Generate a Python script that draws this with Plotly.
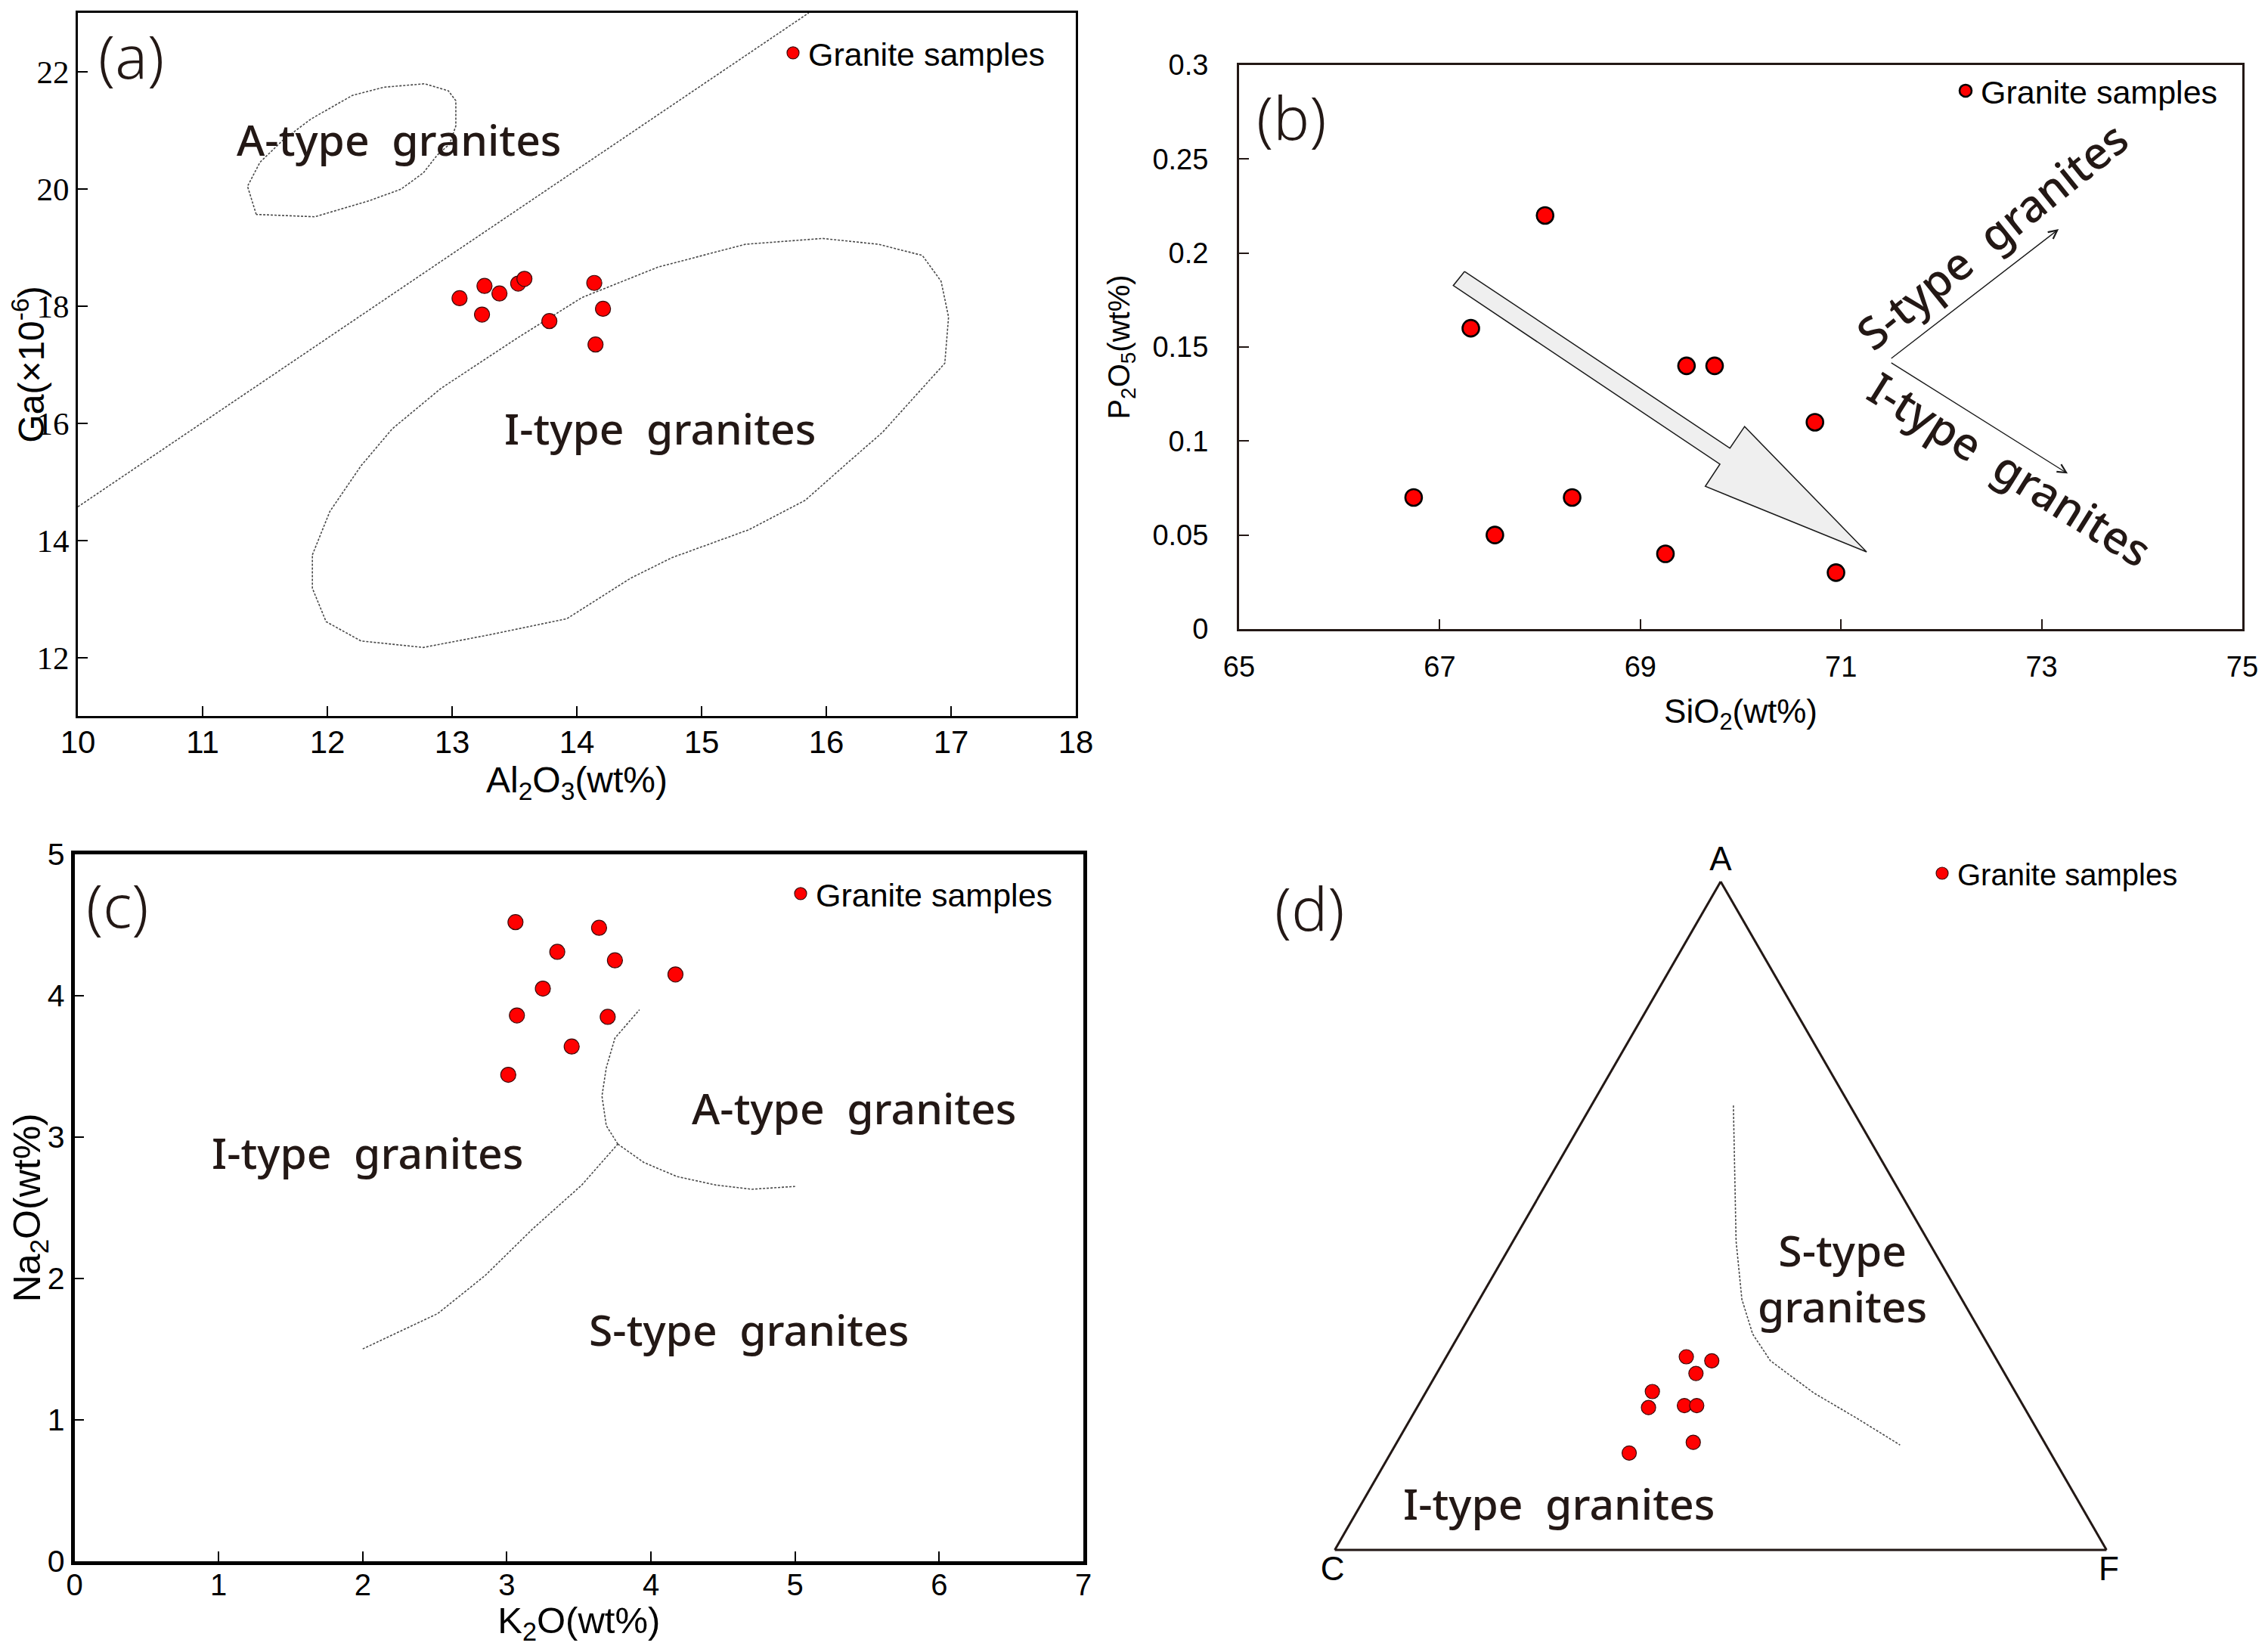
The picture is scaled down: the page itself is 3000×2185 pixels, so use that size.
import plotly.graph_objects as go

# ---------------- (a) Ga vs Al2O3 ----------------
a_al2o3 = [13.06, 13.26, 13.24, 13.38, 13.53, 13.58, 13.78, 14.14, 14.21, 14.15]
a_ga = [18.13, 18.34, 17.85, 18.21, 18.38, 18.46, 17.74, 18.39, 17.95, 17.34]
a_divide_al2o3 = [10.0, 15.86]
a_divide_ga = [14.57, 23.0]
a_atype_al2o3 = [11.43, 11.36, 11.46, 11.64, 11.87, 12.20, 12.45, 12.78, 12.97, 13.03,
                 13.03, 12.98, 12.88, 12.77, 12.59, 12.33, 11.90, 11.43]
a_atype_ga = [19.56, 20.04, 20.45, 20.82, 21.19, 21.59, 21.73, 21.79, 21.67, 21.50,
              21.07, 20.76, 20.57, 20.27, 19.99, 19.79, 19.52, 19.56]
a_itype_al2o3 = [11.88, 12.02, 12.27, 12.52, 12.91, 13.53, 14.04, 14.65, 15.35, 15.97,
                 16.42, 16.77, 16.92, 16.98, 16.95, 16.73, 16.45, 16.17, 15.83, 15.38,
                 14.76, 14.43, 13.92, 13.31, 12.77, 12.27, 11.99, 11.88, 11.88]
a_itype_ga = [13.75, 14.49, 15.27, 15.90, 16.59, 17.46, 18.14, 18.66, 19.05, 19.15,
              19.05, 18.86, 18.42, 17.81, 17.02, 16.50, 15.84, 15.32, 14.68, 14.18,
              13.70, 13.35, 12.66, 12.39, 12.17, 12.28, 12.61, 13.18, 13.75]
a_xticks = [10, 11, 12, 13, 14, 15, 16, 17, 18]
a_yticks = [12, 14, 16, 18, 20, 22]

# ---------------- (b) P2O5 vs SiO2 ----------------
b_sio2 = [66.74, 67.31, 67.55, 68.05, 68.32, 69.25, 69.46, 69.74, 70.74, 70.95]
b_p2o5 = [0.07, 0.16, 0.05, 0.22, 0.07, 0.04, 0.14, 0.14, 0.11, 0.03]
b_trend_sio2 = [67.248, 67.135, 69.793, 69.647, 71.255, 70.039, 69.893, 67.248]
b_trend_p2o5 = [0.1902, 0.1827, 0.0877, 0.0759, 0.0410, 0.1077, 0.0962, 0.1902]
b_s_arrow_sio2 = [71.49, 73.17]
b_s_arrow_p2o5 = [0.1435, 0.2127]
b_i_arrow_sio2 = [71.49, 73.26]
b_i_arrow_p2o5 = [0.1420, 0.0827]
b_xticks = [65, 67, 69, 71, 73, 75]
b_yticks = [0, 0.05, 0.1, 0.15, 0.2, 0.25, 0.3]

# ---------------- (c) Na2O vs K2O ----------------
c_k2o = [3.06, 3.64, 3.35, 3.75, 4.17, 3.25, 3.07, 3.70, 3.45, 3.01]
c_na2o = [4.52, 4.48, 4.31, 4.25, 4.15, 4.05, 3.86, 3.85, 3.64, 3.44]
c_is_k2o = [2.0, 2.52, 2.85, 3.18, 3.52, 3.77]
c_is_na2o = [1.5, 1.75, 2.02, 2.35, 2.66, 2.95]
c_ia_k2o = [3.77, 3.69, 3.66, 3.69, 3.75, 3.92]
c_ia_na2o = [2.95, 3.08, 3.29, 3.49, 3.70, 3.90]
c_as_k2o = [3.77, 3.95, 4.18, 4.45, 4.70, 5.0]
c_as_na2o = [2.95, 2.82, 2.72, 2.66, 2.63, 2.65]
c_xticks = [0, 1, 2, 3, 4, 5, 6, 7]
c_yticks = [0, 1, 2, 3, 4, 5]

# ---------------- (d) ACF ternary ----------------
d_A = [28.9, 28.3, 26.4, 23.7, 21.3, 21.6, 21.6, 16.1, 14.5]
d_C = [40.0, 37.0, 40.0, 47.0, 48.7, 43.9, 42.3, 45.5, 54.6]
d_F = [31.1, 34.7, 33.6, 29.3, 30.0, 34.5, 36.1, 38.4, 30.9]
d_line_A = [66.5, 46.2, 37.5, 32.3, 28.3, 23.5, 19.7, 15.7]
d_line_C = [15.1, 24.9, 28.5, 29.7, 29.4, 26.2, 22.5, 18.9]
d_line_F = [18.4, 28.9, 34.0, 38.0, 42.3, 50.3, 57.8, 65.4]

INK = '#231815'
ARIAL = 'Arial, Liberation Sans, sans-serif'
TIMES = 'Times New Roman, Liberation Serif, serif'
LABEL = 'Noto Sans, Open Sans, sans-serif'
RED = '#ff0000'
DASH = dict(color='#4a4a4a', width=1.6, dash='3px,2px')
NB = '\u00a0'

# page has an 8px body margin: figure is sized so that it fits the window
W, H, OFF = 2984, 2169, 8


def X(px):
    return (px - OFF) / W


def Y(py):
    return 1 - (py - OFF) / H


fig = go.Figure()

# (a)
fig.add_trace(go.Scatter(x=a_divide_al2o3, y=a_divide_ga, mode='lines', line=DASH,
                         showlegend=False, hoverinfo='skip', xaxis='x', yaxis='y'))
fig.add_trace(go.Scatter(x=a_atype_al2o3, y=a_atype_ga, mode='lines', line=DASH,
                         showlegend=False, hoverinfo='skip', xaxis='x', yaxis='y'))
fig.add_trace(go.Scatter(x=a_itype_al2o3, y=a_itype_ga, mode='lines', line=DASH,
                         showlegend=False, hoverinfo='skip', xaxis='x', yaxis='y'))
fig.add_trace(go.Scatter(x=a_al2o3, y=a_ga, mode='markers', name='Granite samples',
                         marker=dict(size=20, color=RED, line=dict(color='#3a0a0a', width=1.2)),
                         legend='legend', xaxis='x', yaxis='y'))

# (b)
fig.add_trace(go.Scatter(x=b_trend_sio2, y=b_trend_p2o5, mode='lines', fill='toself',
                         fillcolor='#efefef', line=dict(color='#1a1a1a', width=1.5),
                         showlegend=False, hoverinfo='skip', xaxis='x2', yaxis='y2'))
fig.add_trace(go.Scatter(x=b_sio2, y=b_p2o5, mode='markers', name='Granite samples',
                         marker=dict(size=22, color=RED, line=dict(color='#000000', width=2.6)),
                         legend='legend2', xaxis='x2', yaxis='y2'))

# (c)
for xs, ys in [(c_is_k2o, c_is_na2o), (c_ia_k2o, c_ia_na2o), (c_as_k2o, c_as_na2o)]:
    fig.add_trace(go.Scatter(x=xs, y=ys, mode='lines', line=DASH, showlegend=False,
                             hoverinfo='skip', xaxis='x3', yaxis='y3'))
fig.add_trace(go.Scatter(x=c_k2o, y=c_na2o, mode='markers', name='Granite samples',
                         marker=dict(size=20, color=RED, line=dict(color='#3a0a0a', width=1.2)),
                         legend='legend3', xaxis='x3', yaxis='y3'))

# (d)
fig.add_trace(go.Scatterternary(a=d_line_A, b=d_line_C, c=d_line_F, mode='lines',
                                line=DASH, showlegend=False, hoverinfo='skip',
                                subplot='ternary'))
fig.add_trace(go.Scatterternary(a=d_A, b=d_C, c=d_F, mode='markers', name='Granite samples',
                                marker=dict(size=19, color=RED, line=dict(color='#3a0a0a', width=1.2)),
                                legend='legend4', subplot='ternary'))


def cart_axis(domain, rng, tickvals, anchor, title, tfont, titlefont, standoff,
              lw=3, lstand=0, linecolor='black'):
    return dict(domain=domain, range=rng, tickvals=tickvals, anchor=anchor,
                ticks='inside', ticklen=13, tickwidth=1.5, tickcolor=linecolor,
                showline=True, linewidth=lw, linecolor=linecolor, mirror=True,
                showgrid=False, zeroline=False, tickfont=tfont,
                ticklabelstandoff=lstand,
                title=dict(text=title, font=titlefont, standoff=standoff))


fig.update_layout(
    width=W, height=H, template='none',
    margin=dict(l=0, r=0, t=0, b=0),
    paper_bgcolor='white', plot_bgcolor='white',
    xaxis=cart_axis([X(103), X(1423)], [10, 18], a_xticks, 'y',
                    'Al<sub>2</sub>O<sub>3</sub>(wt%)',
                    dict(family=ARIAL, size=42, color='black'),
                    dict(family=ARIAL, size=48, color='black'), 3, lstand=-4),
    yaxis=cart_axis([Y(947), Y(17)], [11, 23], a_yticks, 'x',
                    'Ga(×10<sup>-6</sup>)',
                    dict(family=TIMES, size=43, color='black'),
                    dict(family=ARIAL, size=48, color='black'), 0),
    xaxis2=cart_axis([X(1639), X(2966)], [65, 75], b_xticks, 'y2',
                     'SiO<sub>2</sub>(wt%)',
                     dict(family=ARIAL, size=38, color='black'),
                     dict(family=ARIAL, size=44, color='black'), 24,
                     lstand=14, linecolor=INK),
    yaxis2=cart_axis([Y(832), Y(86)], [0, 0.3], b_yticks, 'x2',
                     'P<sub>2</sub>O<sub>5</sub>(wt%)',
                     dict(family=ARIAL, size=38, color='black'),
                     dict(family=ARIAL, size=40, color='black'), 18,
                     lstand=30, linecolor=INK),
    xaxis3=cart_axis([X(98.5), X(1433)], [0, 7], c_xticks, 'y3',
                     'K<sub>2</sub>O(wt%)',
                     dict(family=ARIAL, size=40, color='black'),
                     dict(family=ARIAL, size=49, color='black'), 6, lw=4.5, lstand=-7),
    yaxis3=cart_axis([Y(2064.5), Y(1130)], [0, 5], c_yticks, 'x3',
                     'Na<sub>2</sub>O(wt%)',
                     dict(family=ARIAL, size=41, color='black'),
                     dict(family=ARIAL, size=50, color='black'), 4, lw=4.5),
    ternary=dict(
        domain=dict(x=[X(1765), X(2787)], y=[Y(2050), Y(1166)]),
        sum=100, bgcolor='white',
        aaxis=dict(title=dict(text='A', font=dict(family=ARIAL, size=44, color='black')),
                   showgrid=False, showticklabels=False, ticks='', linewidth=3, linecolor=INK),
        baxis=dict(title=dict(text='C', font=dict(family=ARIAL, size=44, color='black')),
                   showgrid=False, showticklabels=False, ticks='', linewidth=3, linecolor=INK),
        caxis=dict(title=dict(text='F', font=dict(family=ARIAL, size=44, color='black')),
                   showgrid=False, showticklabels=False, ticks='', linewidth=3, linecolor=INK),
    ),
    showlegend=True,
)

legend_common = dict(xanchor='left', yanchor='middle', bgcolor='rgba(0,0,0,0)',
                     borderwidth=0, itemsizing='trace')
fig.update_layout(
    legend=dict(x=X(1049 - 20), y=Y(74 - 4),
                font=dict(family=ARIAL, size=43, color='black'), **legend_common),
    legend2=dict(x=X(2602 - 22), y=Y(124 - 4),
                 font=dict(family=ARIAL, size=43, color='black'), **legend_common),
    legend3=dict(x=X(1059 - 20), y=Y(1186 - 4),
                 font=dict(family=ARIAL, size=43, color='black'), **legend_common),
    legend4=dict(x=X(2571 - 22), y=Y(1159 - 4),
                 font=dict(family=ARIAL, size=40, color='black'), **legend_common),
)

lab = dict(family=LABEL, size=57, color=INK, weight=500)
panel = dict(family=LABEL, size=80, color=INK, weight=300)
C = dict(xanchor='center', yanchor='middle', showarrow=False)
ann = []
# (a)
ann.append(dict(text='(a)', x=10.43, y=22.29, xref='x', yref='y', font=panel, **C))
ann.append(dict(text='A-type' + NB + ' granites', x=12.576, y=20.84, xref='x', yref='y', font=lab, **C))
ann.append(dict(text='I-type' + NB + ' granites', x=14.667, y=15.91, xref='x', yref='y', font=lab, **C))
# (b)
ann.append(dict(text='(b)', x=65.52, y=0.273, xref='x2', yref='y2', font=panel, **C))
ann.append(dict(text='S-type' + NB + ' granites', x=72.50, y=0.2096, xref='x2', yref='y2',
                font=dict(family=LABEL, size=59, color=INK, weight=500), textangle=-38.8, **C))
ann.append(dict(text='I-type' + NB + ' granites', x=72.69, y=0.0854, xref='x2', yref='y2',
                font=dict(family=LABEL, size=59, color=INK, weight=500), textangle=32, **C))
for xs, ys in [(b_s_arrow_sio2, b_s_arrow_p2o5), (b_i_arrow_sio2, b_i_arrow_p2o5)]:
    ann.append(dict(text='', x=xs[1], y=ys[1], ax=xs[0], ay=ys[0], xref='x2', yref='y2',
                    axref='x2', ayref='y2', showarrow=True, arrowhead=5, arrowsize=1.6,
                    arrowwidth=1.4, arrowcolor='#1a1a1a'))
# (c)
ann.append(dict(text='(c)', x=0.30, y=4.65, xref='x3', yref='y3', font=panel, **C))
ann.append(dict(text='I-type' + NB + ' granites', x=2.03, y=2.89, xref='x3', yref='y3', font=lab, **C))
ann.append(dict(text='A-type' + NB + ' granites', x=5.41, y=3.21, xref='x3', yref='y3', font=lab, **C))
ann.append(dict(text='S-type' + NB + ' granites', x=4.68, y=1.64, xref='x3', yref='y3', font=lab, **C))
# (d)
ann.append(dict(text='(d)', x=X(1732), y=Y(1199), xref='paper', yref='paper', font=panel, **C))
ann.append(dict(text='S-type<br>granites', x=X(2437), y=Y(1690), xref='paper', yref='paper', font=lab, **C))
ann.append(dict(text='I-type' + NB + ' granites', x=X(2062), y=Y(1988), xref='paper', yref='paper', font=lab, **C))
fig.update_layout(annotations=ann)

fig.write_html('out.html')
